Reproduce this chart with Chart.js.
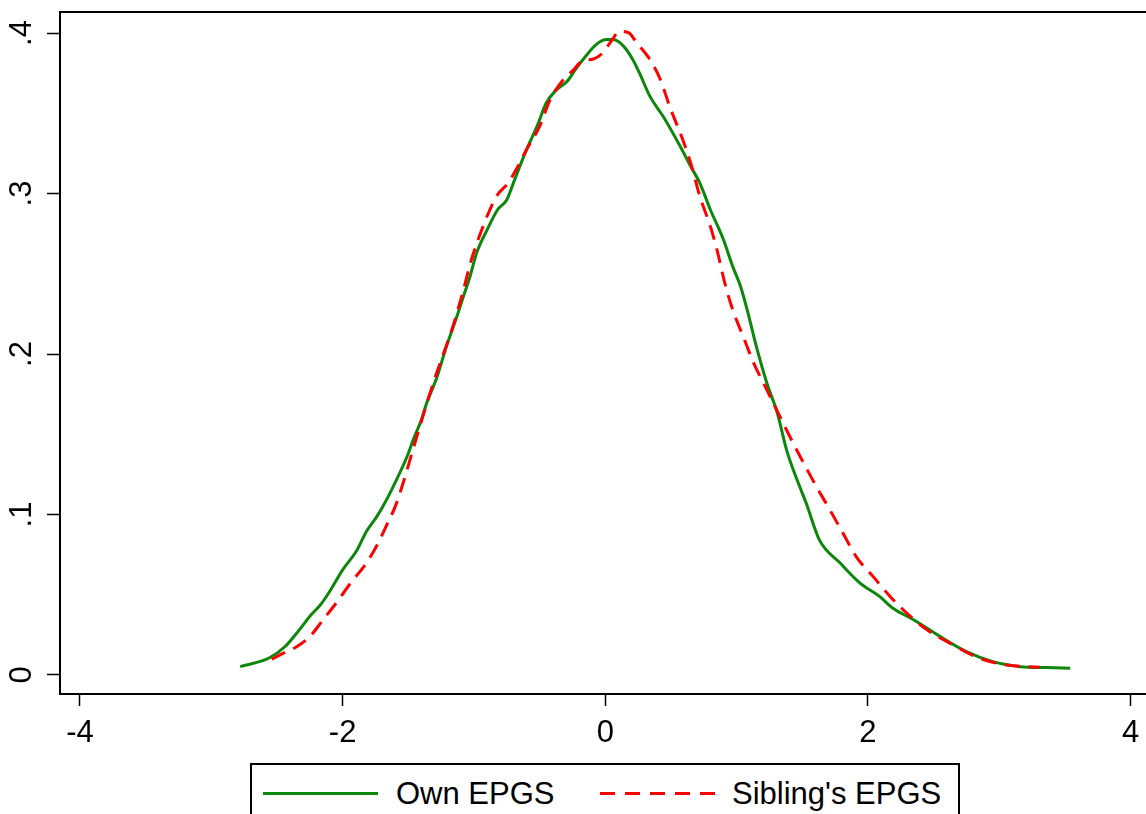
<!DOCTYPE html>
<html>
<head>
<meta charset="utf-8">
<script src="https://cdn.jsdelivr.net/npm/chart.js@4.4.1/dist/chart.umd.min.js"></script>
<style>
html,body{margin:0;padding:0;background:#fff;overflow:hidden;width:1146px;height:814px;}
#wrap{position:relative;width:1146px;height:814px;overflow:hidden;}
#c{position:absolute;left:0;top:0;}
#legend{position:absolute;left:250px;top:763px;width:710px;height:80px;border:2px solid #000;box-sizing:border-box;background:#fff;
  font-family:'Liberation Sans',Arial,Helvetica,sans-serif;font-size:31px;line-height:31px;color:#000;}
#legend .sw{position:absolute;top:27px;width:115px;height:3px;}
#legend .t{position:absolute;top:13px;white-space:nowrap;}
</style>
</head>
<body>
<div id="wrap">
<canvas id="c" width="1146" height="814"></canvas>
<div id="legend"></div>
</div>
<script>
// ---- data (kernel density estimates) ----
const ownX = [-2.78,-2.56,-2.44,-2.33,-2.24,-2.17,-2.10,-2.00,-1.89,-1.82,-1.74,-1.68,-1.59,-1.51,-1.46,-1.40,-1.36,-1.28,-1.21,-1.13,-1.08,-1.03,-0.98,-0.90,-0.82,-0.75,-0.70,-0.60,-0.52,-0.45,-0.37,-0.29,-0.22,-0.14,-0.07,0.01,0.06,0.14,0.21,0.26,0.34,0.44,0.57,0.65,0.72,0.80,0.90,0.97,1.03,1.08,1.15,1.23,1.31,1.38,1.46,1.53,1.63,1.79,1.94,2.09,2.19,2.35,2.55,2.75,2.95,3.16,3.36,3.54];
const ownY = [0.0052,0.0106,0.0176,0.0281,0.0375,0.0436,0.0519,0.0655,0.0779,0.0893,0.0987,0.1070,0.1216,0.1360,0.1470,0.1590,0.1694,0.1860,0.2047,0.2234,0.2359,0.2483,0.2629,0.2774,0.2899,0.2961,0.3065,0.3273,0.3418,0.3564,0.3647,0.3699,0.3782,0.3865,0.3928,0.3959,0.3959,0.3917,0.3834,0.3751,0.3605,0.3481,0.3294,0.3169,0.3065,0.2899,0.2712,0.2546,0.2421,0.2276,0.2047,0.1819,0.1632,0.1403,0.1216,0.1070,0.0842,0.0696,0.0572,0.0488,0.0416,0.0343,0.0239,0.0145,0.0083,0.0052,0.0046,0.0042];
const sibX = [-2.54,-2.43,-2.35,-2.25,-2.15,-2.05,-1.94,-1.82,-1.73,-1.67,-1.60,-1.54,-1.48,-1.42,-1.31,-1.23,-1.16,-1.08,-1.02,-0.95,-0.89,-0.82,-0.74,-0.68,-0.60,-0.50,-0.42,-0.32,-0.24,-0.18,-0.09,-0.02,0.05,0.11,0.18,0.24,0.34,0.42,0.49,0.59,0.65,0.72,0.80,0.85,0.91,0.97,1.05,1.13,1.23,1.33,1.43,1.53,1.61,1.71,1.81,1.91,2.04,2.17,2.27,2.45,2.65,2.85,3.06,3.31];
const sibY = [0.0098,0.0145,0.0176,0.0239,0.0343,0.0447,0.0572,0.0696,0.0821,0.0925,0.1049,0.1195,0.1361,0.1527,0.1819,0.2006,0.2172,0.2400,0.2587,0.2754,0.2878,0.2993,0.3065,0.3148,0.3273,0.3418,0.3585,0.3709,0.3772,0.3824,0.3838,0.3876,0.3955,0.4011,0.4001,0.3938,0.3834,0.3709,0.3543,0.3335,0.3190,0.2982,0.2795,0.2650,0.2442,0.2276,0.2109,0.1943,0.1777,0.1610,0.1445,0.1290,0.1170,0.1029,0.0883,0.0738,0.0613,0.0488,0.0405,0.0281,0.0187,0.0104,0.0062,0.0048];
const seriesNames = ['Own EPGS', "Sibling's EPGS"];
const xTickValues = [-4,-2,0,2,4];
const xTickLabels = ['-4','-2','0','2','4'];
const yTickValues = [0,0.1,0.2,0.3,0.4];
const yTickLabels = ['0','.1','.2','.3','.4'];

const GREEN = '#0c870c';
const RED = '#ff0000';
const FONT = {family:"'Liberation Sans', Arial, Helvetica, sans-serif", size:31};

const topBorder = {
  id:'topBorder',
  afterDraw(chart){
    const {ctx, chartArea:a} = chart;
    ctx.save();
    ctx.strokeStyle = '#000';
    ctx.lineWidth = 2;
    ctx.beginPath();
    ctx.moveTo(a.left-1, a.top);
    ctx.lineTo(a.right+2, a.top);
    ctx.stroke();
    ctx.restore();
  }
};
function noPad(s){ s.paddingTop = 0; s.paddingBottom = 0; s.paddingLeft = 0; s.paddingRight = 0; }

new Chart(document.getElementById('c'), {
  type:'line',
  data:{
    datasets:[
      {label:seriesNames[0], data:ownX.map((x,i)=>({x:x,y:ownY[i]})), borderColor:GREEN, backgroundColor:GREEN,
       borderWidth:3, pointRadius:0, fill:false, cubicInterpolationMode:'monotone', order:1},
      {label:seriesNames[1], data:sibX.map((x,i)=>({x:x,y:sibY[i]})), borderColor:RED, backgroundColor:RED,
       borderWidth:3, borderDash:[15,9], pointRadius:0, fill:false, cubicInterpolationMode:'monotone', order:0}
    ]
  },
  options:{
    responsive:false, animation:false, devicePixelRatio:1,
    layout:{padding:{top:12,left:0,right:0,bottom:0}},
    plugins:{legend:{display:false}, tooltip:{enabled:false}, title:{display:false}},
    scales:{
      x:{
        type:'linear', min:-4.152, max:4.117,
        afterFit:(s)=>{ s.height = 120; noPad(s); },
        afterBuildTicks:(s)=>{ s.ticks = xTickValues.map(v=>({value:v})); },
        ticks:{callback:(v,i)=>xTickLabels[i], font:FONT, color:'#000', padding:9, maxRotation:0, minRotation:0, autoSkip:false},
        grid:{drawOnChartArea:false, drawTicks:true, tickLength:12, tickColor:'#000', tickWidth:1.5},
        border:{display:true, color:'#000', width:2}
      },
      y:{
        type:'linear', min:-0.01185, max:0.4131,
        afterFit:(s)=>{ s.width = 60; noPad(s); },
        afterBuildTicks:(s)=>{ s.ticks = yTickValues.map(v=>({value:v})); },
        ticks:{callback:(v,i)=>yTickLabels[i], font:FONT, color:'#000', padding:12, minRotation:90, maxRotation:90, crossAlign:'center', autoSkip:false},
        grid:{drawOnChartArea:false, drawTicks:true, tickLength:13, tickColor:'#000', tickWidth:1.5},
        border:{display:true, color:'#000', width:2}
      }
    }
  },
  plugins:[topBorder]
});

// legend (HTML, built from series names)
const lg = document.getElementById('legend');
const items = [
  {name:seriesNames[0], swLeft:11, txtLeft:144, style:'background:'+GREEN+';'},
  {name:seriesNames[1], swLeft:348, txtLeft:480, style:'background:repeating-linear-gradient(to right,'+RED+' 0 15px,transparent 15px 25px);'}
];
items.forEach(it=>{
  const sw = document.createElement('div');
  sw.className='sw'; sw.style.cssText = 'left:'+it.swLeft+'px;'+it.style;
  const t = document.createElement('div');
  t.className='t'; t.style.left = it.txtLeft+'px'; t.textContent = it.name;
  lg.appendChild(sw); lg.appendChild(t);
});
</script>
</body>
</html>
